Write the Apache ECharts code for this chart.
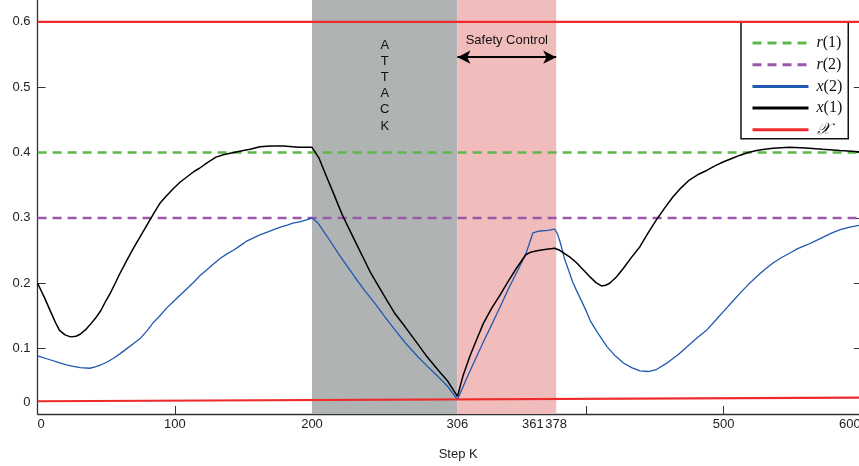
<!DOCTYPE html>
<html><head><meta charset="utf-8">
<script src="https://cdn.jsdelivr.net/npm/echarts@6/dist/echarts.min.js"></script>
<style>html,body{margin:0;padding:0;background:#fff}#c{width:859px;height:466px}</style>
</head><body><div id="c"></div>
<script>
// ---- data ----
const xTickValues = [0, 100, 200, 300, 400, 500, 600];
const xLabelValues = [0, 100, 200, 306, 361, 378, 500, 600];
const yTickValues = [0.1, 0.2, 0.3, 0.4, 0.5, 0.6];
const yLabelValues = [0.018, 0.1, 0.2, 0.3, 0.4, 0.5, 0.6];
const yLabelTexts = ['0', '0.1', '0.2', '0.3', '0.4', '0.5', '0.6'];

const attackRange = [200, 306];
const safetyRange = [306, 378];

const r1Steps = [0, 600], r1Vals = [0.4, 0.4];
const r2Steps = [0, 600], r2Vals = [0.3, 0.3];
const chiUpperSteps = [0, 600], chiUpperVals = [0.6, 0.6];
const chiLowerSteps = [0, 600], chiLowerVals = [0.0195, 0.025];

const x1Steps = [0,5,9,13,16,20,24,28,31,35,38,42,46,50,53,57,60,65,70,75,80,85,89,94,99,104,109,114,118,124,130,136,143,150,155,162,170,179,186,191,196,200,
  205,210,215,222,231,243,252,260,268,275,283,292,299,306,
  310,315,320,325,331,337,343,349,356,360,365,371,377,380,383,388,393,398,403,407,411,414,417,422,427,433,439,445,451,457,463,469,475,481,488,494,500,506,512,518,524,530,536,542,548,560,572,585,600];
const x1Vals = [0.200,0.178,0.159,0.140,0.128,0.121,0.118,0.119,0.122,0.129,0.136,0.146,0.158,0.174,0.185,0.202,0.215,0.235,0.254,0.272,0.290,0.308,0.322,0.334,0.345,0.355,0.363,0.371,0.376,0.385,0.393,0.397,0.400,0.403,0.405,0.409,0.410,0.410,0.409,0.408,0.408,0.408,
  0.392,0.366,0.341,0.305,0.266,0.215,0.183,0.155,0.133,0.113,0.090,0.067,0.050,0.027,
  0.058,0.088,0.114,0.139,0.162,0.182,0.203,0.223,0.244,0.248,0.250,0.252,0.2535,0.251,0.247,0.240,0.231,0.220,0.209,0.201,0.196,0.197,0.200,0.210,0.223,0.240,0.256,0.277,0.297,0.315,0.332,0.346,0.358,0.366,0.373,0.380,0.386,0.391,0.396,0.400,0.403,0.405,0.4065,0.4075,0.408,0.407,0.405,0.403,0.401];

const x2Steps = [0,9,15,21,26,31,38,42,46,51,55,60,65,70,75,80,84,89,94,99,104,109,114,118,123,128,133,138,143,148,152,157,162,167,172,177,182,186,191,196,200,
  204,210,219,225,231,238,246,253,260,268,277,285,292,299,306,
  313,320,326,332,338,344,350,356,361,366,372,377,379,381,384,387,390,393,396,400,403,408,415,421,427,433,439,445,451,458,467,475,481,488,494,500,506,512,518,524,530,536,542,548,554,561,567,573,579,585,592,600];
const x2Vals = [0.089,0.083,0.079,0.075,0.073,0.071,0.070,0.072,0.075,0.080,0.085,0.092,0.100,0.108,0.116,0.128,0.139,0.150,0.162,0.172,0.182,0.192,0.202,0.211,0.220,0.229,0.238,0.245,0.251,0.258,0.264,0.269,0.274,0.278,0.282,0.286,0.289,0.292,0.294,0.297,0.300,
  0.293,0.275,0.246,0.228,0.210,0.190,0.169,0.149,0.130,0.109,0.088,0.071,0.057,0.042,0.022,
  0.056,0.088,0.115,0.141,0.168,0.195,0.220,0.246,0.277,0.280,0.281,0.283,0.275,0.262,0.238,0.220,0.202,0.188,0.175,0.157,0.142,0.125,0.103,0.089,0.078,0.071,0.066,0.065,0.068,0.077,0.091,0.106,0.117,0.129,0.143,0.157,0.171,0.185,0.198,0.210,0.221,0.231,0.239,0.246,0.253,0.259,0.265,0.271,0.277,0.282,0.286,0.289];

const arrowLevel = 0.546;

// ---- chart ----
const zip = (a, b) => a.map((v, i) => [v, b[i]]);
const Y_MAX = 414 / 653.6;
const chart = echarts.init(document.getElementById('c'));
const sans = 'Liberation Sans, Arial, sans-serif';
const serif = 'Liberation Serif, DejaVu Serif, serif';

function legendFmt(name) {
  const m = name.match(/^(\w)(\(\d\))$/);
  if (m) return '{i|' + m[1] + '}{n|' + m[2] + '}';
  return '{c|' + name + '}';
}

chart.setOption({
  animation: false,
  backgroundColor: '#fff',
  grid: { left: 37.6, top: 0, width: 823.2, height: 414, containLabel: false, outerBoundsMode: 'none' },
  legend: {
    data: ['r(1)', 'r(2)', 'x(2)', 'x(1)', '𝒳'],
    orient: 'vertical', left: 741, top: 22,
    backgroundColor: '#fff', borderColor: '#111', borderWidth: 1.5,
    padding: [13, 6, 1, 10],
    itemWidth: 56, itemHeight: 14, itemGap: 5.7,
    itemStyle: { opacity: 0 },
    lineStyle: { width: 3 },
    formatter: legendFmt,
    textStyle: {
      color: '#111', padding: [0, 0, 0, 3],
      rich: {
        i: { fontFamily: serif, fontStyle: 'italic', fontSize: 16, lineHeight: 16, color: '#111' },
        n: { fontFamily: serif, fontSize: 16, lineHeight: 16, color: '#111' },
        c: { fontFamily: serif, fontStyle: 'italic', fontSize: 16, lineHeight: 16, color: '#111' }
      }
    }
  },
  xAxis: {
    type: 'value', min: 0, max: 600,
    name: 'Step K', nameLocation: 'middle', nameGap: 34,
    nameTextStyle: { fontFamily: sans, fontSize: 13, color: '#222', padding: [0, 0, 0, 18] },
    axisLine: { show: true, lineStyle: { color: '#333', width: 1.3 } },
    axisTick: { show: true, inside: true, length: 8, customValues: xTickValues, lineStyle: { color: '#333', width: 1 } },
    axisLabel: { customValues: xLabelValues, margin: 4, fontFamily: sans, fontSize: 13, color: '#222',
                 hideOverlap: false, alignMinLabel: 'left', alignMaxLabel: 'right' },
    splitLine: { show: false }
  },
  yAxis: [{
    type: 'value', min: 0, max: Y_MAX,
    axisLine: { show: true, lineStyle: { color: '#333', width: 1.3 } },
    axisTick: { show: true, inside: true, length: 8, customValues: yTickValues, lineStyle: { color: '#333', width: 1 } },
    axisLabel: {
      customValues: yLabelValues, margin: 7, fontFamily: sans, fontSize: 13, color: '#222',
      formatter: v => { const i = yLabelValues.indexOf(v); return i >= 0 ? yLabelTexts[i] : ''; }
    },
    splitLine: { show: false }
  }, {
    type: 'value', min: 0, max: Y_MAX, position: 'right',
    axisLine: { show: true, lineStyle: { color: '#333', width: 1.3 } },
    axisTick: { show: true, inside: true, length: 7, customValues: yTickValues, lineStyle: { color: '#333', width: 1 } },
    axisLabel: { show: false }, splitLine: { show: false }
  }],
  series: [
    {
      name: 'r(1)', type: 'line', data: zip(r1Steps, r1Vals), symbol: 'none', z: 3,
      lineStyle: { color: '#5cb848', width: 2.5, type: [9, 6] }, itemStyle: { color: '#5cb848' },
      markLine: {
        silent: true, symbol: ['arrow', 'arrow'], symbolSize: [10, 13],
        label: { show: false },
        lineStyle: { color: '#000', width: 2, type: 'solid' },
        data: [[{ coord: [safetyRange[0], arrowLevel] }, { coord: [safetyRange[1], arrowLevel] }]]
      }
    },
    {
      name: 'r(2)', type: 'line', data: zip(r2Steps, r2Vals), symbol: 'none', z: 3,
      lineStyle: { color: '#9b57aa', width: 2.5, type: [9, 6] }, itemStyle: { color: '#9b57aa' }
    },
    {
      name: 'x(2)', type: 'line', data: zip(x2Steps, x2Vals), symbol: 'none', z: 4,
      lineStyle: { color: '#2158b0', width: 1.3 }, itemStyle: { color: '#2158b0' }
    },
    {
      name: 'x(1)', type: 'line', data: zip(x1Steps, x1Vals), symbol: 'none', z: 5,
      lineStyle: { color: '#000', width: 1.5 }, itemStyle: { color: '#000' },
      markArea: {
        silent: true,
        data: [
          [{ xAxis: attackRange[0], itemStyle: { color: '#b0b3b4' },
             label: { show: true, position: 'insideTop', distance: 37, formatter: 'A\nT\nT\nA\nC\nK',
                      fontFamily: sans, fontSize: 13, lineHeight: 16.2, color: '#111' } },
           { xAxis: attackRange[1] }],
          [{ xAxis: safetyRange[0], itemStyle: { color: '#f1bcbc' },
             label: { show: true, position: 'insideTop', distance: 34, formatter: 'Safety Control',
                      fontFamily: sans, fontSize: 13, color: '#111' } },
           { xAxis: safetyRange[1] }]
        ]
      }
    },
    {
      name: '𝒳', type: 'line', data: zip(chiUpperSteps, chiUpperVals), symbol: 'none', z: 6,
      lineStyle: { color: '#ee2a2a', width: 2.2 }, itemStyle: { color: '#ee2a2a' }
    },
    {
      name: '𝒳', type: 'line', data: zip(chiLowerSteps, chiLowerVals), symbol: 'none', z: 6,
      lineStyle: { color: '#ee2a2a', width: 2.2 }, itemStyle: { color: '#ee2a2a' }
    }
  ]
});
</script>
</body></html>
